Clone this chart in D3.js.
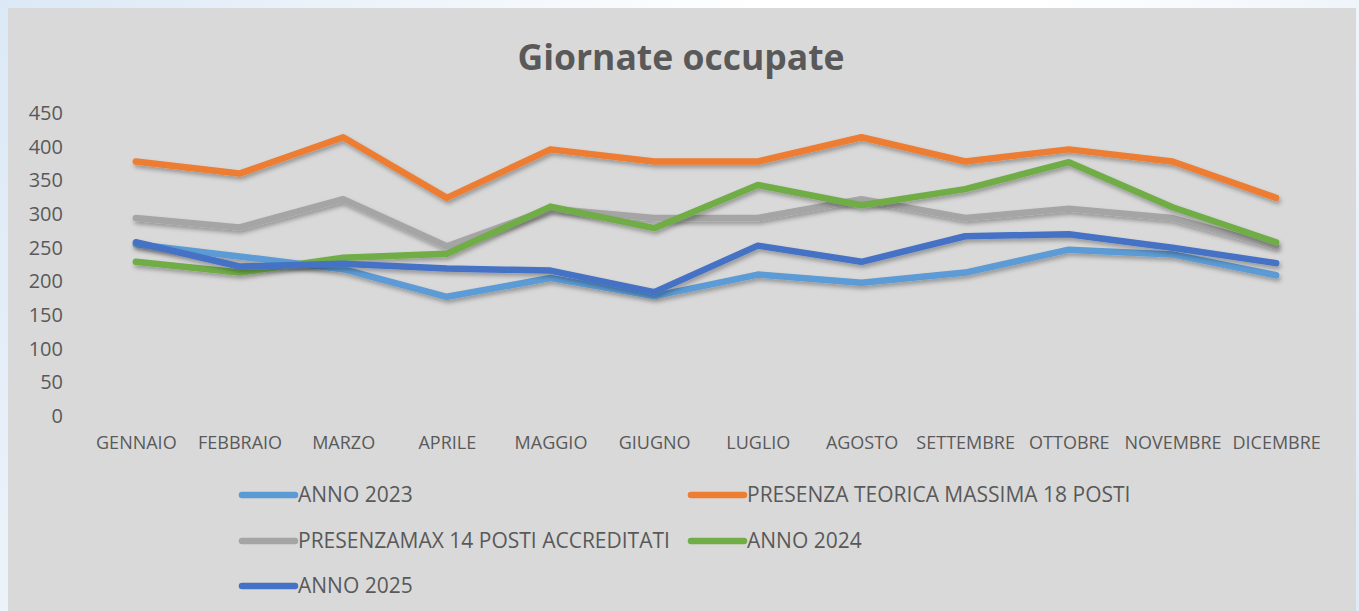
<!DOCTYPE html>
<html>
<head>
<meta charset="utf-8">
<script src="https://cdn.jsdelivr.net/npm/d3@7"></script>
<style>
    body { margin: 0; overflow: hidden; background: linear-gradient(120deg, #dbe8f6 0%, #ffffff 45%, #ffffff 60%, #dfeaf7 100%); }
    svg { display: block; }
</style>
</head>
<body>
<div id="chart"></div>
<script>
const months = ['GENNAIO', 'FEBBRAIO', 'MARZO', 'APRILE', 'MAGGIO', 'GIUGNO', 'LUGLIO', 'AGOSTO', 'SETTEMBRE', 'OTTOBRE', 'NOVEMBRE', 'DICEMBRE'];
const yTicks = [0, 50, 100, 150, 200, 250, 300, 350, 400, 450];

const anno2023 = [255, 237, 218, 177, 205, 178, 210, 198, 213, 247, 240, 209];
const presenza18 = [378, 360, 414, 324, 396, 378, 378, 414, 378, 396, 378, 324];
const presenza14 = [294, 280, 322, 252, 308, 294, 294, 322, 294, 308, 294, 252];
const anno2024 = [229, 213, 235, 241, 311, 279, 343, 313, 337, 377, 310, 258];
const anno2025 = [258, 222, 226, 219, 216, 184, 253, 229, 267, 270, 250, 227];

const seriesNames = ['ANNO 2023', 'PRESENZA TEORICA MASSIMA 18 POSTI', 'PRESENZAMAX 14 POSTI ACCREDITATI', 'ANNO 2024', 'ANNO 2025'];
const seriesValues = [anno2023, presenza18, presenza14, anno2024, anno2025];
const seriesColors = ['#5b9bd5', '#ed7d31', '#a5a5a5', '#70ad47', '#4472c4'];

const width = 1359, height = 611;
const textColor = '#595959';
const font = '"Open Sans", sans-serif';

const svg = d3.select('#chart')
    .append('svg')
    .attr('width', width)
    .attr('height', height);

const defs = svg.append('defs');
defs.append('filter')
    .attr('id', 'shadow')
    .attr('x', '-5%').attr('y', '-20%')
    .attr('width', '110%').attr('height', '140%')
    .append('feDropShadow')
    .attr('dx', 1.5)
    .attr('dy', 3)
    .attr('stdDeviation', 2)
    .attr('flood-color', '#000')
    .attr('flood-opacity', 0.3);

// chart area
svg.append('rect')
    .attr('x', 8).attr('y', 8)
    .attr('width', 1348).attr('height', height - 8)
    .attr('fill', '#d9d9d9');

svg.append('text')
    .attr('x', 681).attr('y', 70)
    .attr('text-anchor', 'middle')
    .attr('font-family', font)
    .attr('font-weight', 'bold')
    .attr('font-size', 35.5)
    .attr('fill', textColor)
    .text('Giornate occupate');

const x = d3.scalePoint()
    .domain(months)
    .range([84, 1328])
    .padding(0.5);

const y = d3.scaleLinear()
    .domain([0, 450])
    .range([416, 113]);

const yAxis = svg.append('g')
    .attr('transform', 'translate(63,0)')
    .call(d3.axisLeft(y).tickValues(yTicks).tickSize(0).tickPadding(0));
yAxis.select('.domain').remove();
yAxis.selectAll('text')
    .attr('font-family', font)
    .attr('font-size', 20)
    .attr('fill', textColor);

const xAxis = svg.append('g')
    .attr('transform', 'translate(0,436)')
    .call(d3.axisBottom(x).tickSize(0).tickPadding(0));
xAxis.select('.domain').remove();
xAxis.selectAll('text')
    .attr('font-family', font)
    .attr('font-size', 18)
    .attr('fill', textColor);

const line = d3.line()
    .x((d, i) => x(months[i]))
    .y(d => y(d));

svg.append('g')
    .selectAll('path')
    .data(seriesValues)
    .join('path')
    .attr('d', line)
    .attr('fill', 'none')
    .attr('stroke', (d, i) => seriesColors[i])
    .attr('stroke-width', 6.5)
    .attr('stroke-linecap', 'round')
    .attr('stroke-linejoin', 'round')
    .attr('filter', 'url(#shadow)');

// legend
const legendPos = [[240, 495], [689, 495], [240, 541], [689, 541], [240, 586]];
const legend = svg.append('g')
    .selectAll('g')
    .data(seriesNames)
    .join('g')
    .attr('transform', (d, i) => `translate(${legendPos[i][0]},${legendPos[i][1]})`);

legend.append('line')
    .attr('x1', 2).attr('x2', 55)
    .attr('stroke', (d, i) => seriesColors[i])
    .attr('stroke-width', 6.5)
    .attr('stroke-linecap', 'round');

legend.append('text')
    .attr('x', 58)
    .attr('dy', '0.35em')
    .attr('font-family', font)
    .attr('font-size', 21)
    .attr('fill', textColor)
    .text(d => d);
</script>
</body>
</html>
